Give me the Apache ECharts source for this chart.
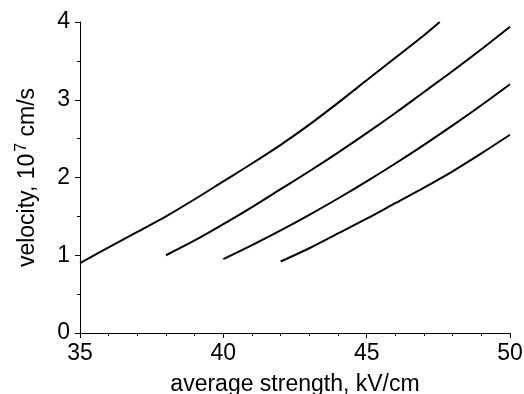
<!DOCTYPE html>
<html>
<head>
<meta charset="utf-8">
<script src="https://cdn.jsdelivr.net/npm/echarts@6/dist/echarts.min.js"></script>
<style>
  html, body { margin: 0; padding: 0; background: #fff; }
  #chart { width: 524px; height: 394px; }
</style>
</head>
<body>
<div id="chart"></div>
<script>
// field strength, kV/cm
const field1 = [35, 36, 37, 38, 39, 40, 41, 42, 43, 44, 45, 46, 47, 47.55]
const field2 = [38, 39, 40, 41, 42, 43, 44, 45, 46, 47, 48, 49, 50]
const field3 = [40, 41, 42, 43, 44, 45, 46, 47, 48, 49, 50]
const field4 = [42, 43, 44, 45, 46, 47, 48, 49, 50]

// velocity, 10^7 cm/s
const velocity1 = [0.9, 1.1, 1.3, 1.5, 1.72, 1.95, 2.18, 2.42, 2.68, 2.96, 3.25, 3.54, 3.83, 4.0]
const velocity2 = [1.0, 1.19, 1.4, 1.62, 1.85, 2.08, 2.32, 2.57, 2.83, 3.1, 3.37, 3.65, 3.94]
const velocity3 = [0.95, 1.13, 1.32, 1.52, 1.73, 1.95, 2.18, 2.42, 2.67, 2.93, 3.2]
const velocity4 = [0.92, 1.09, 1.28, 1.47, 1.67, 1.87, 2.08, 2.31, 2.55]

const font = 'Liberation Sans, Arial, sans-serif'
const pairs = (xs, ys) => xs.map((x, i) => [x, ys[i]])

const chart = echarts.init(document.getElementById('chart'))

const line = (xs, ys) => ({
  type: 'line',
  data: pairs(xs, ys),
  smooth: 0.3,
  showSymbol: false,
  lineStyle: {color: '#000', width: 2},
  silent: true,
})

chart.setOption({
  animation: false,
  grid: {left: 80, right: 14, top: 22, bottom: 61, outerBoundsMode: 'none'},
  xAxis: {
    type: 'value',
    min: 35,
    max: 50,
    interval: 5,
    name: 'average strength, kV/cm',
    nameLocation: 'middle',
    nameGap: 40,
    nameTextStyle: {fontFamily: font, fontSize: 23, color: '#000'},
    axisLine: {show: true, lineStyle: {color: '#000', width: 1}},
    axisTick: {show: true, length: 5, lineStyle: {color: '#000'}},
    minorTick: {show: true, splitNumber: 5, length: 3, lineStyle: {color: '#000'}},
    axisLabel: {margin: 9, fontFamily: font, fontSize: 23, color: '#000'},
    splitLine: {show: false},
  },
  yAxis: {
    type: 'value',
    min: 0,
    max: 4,
    interval: 1,
    name: 'velocity, 10{sup|7} cm/s',
    nameLocation: 'middle',
    nameGap: 38,
    nameTextStyle: {
      fontFamily: font,
      fontSize: 23,
      color: '#000',
      rich: {
        sup: {fontFamily: font, fontSize: 16, color: '#000', verticalAlign: 'top', padding: [0, 0, 12, 2]},
      },
    },
    axisLine: {show: true, lineStyle: {color: '#000', width: 1}},
    axisTick: {show: true, length: 5, lineStyle: {color: '#000'}},
    minorTick: {show: true, splitNumber: 2, length: 3, lineStyle: {color: '#000'}},
    axisLabel: {margin: 10, fontFamily: font, fontSize: 23, color: '#000'},
    splitLine: {show: false},
  },
  series: [
    line(field1, velocity1),
    line(field2, velocity2),
    line(field3, velocity3),
    line(field4, velocity4),
  ],
})
</script>
</body>
</html>
